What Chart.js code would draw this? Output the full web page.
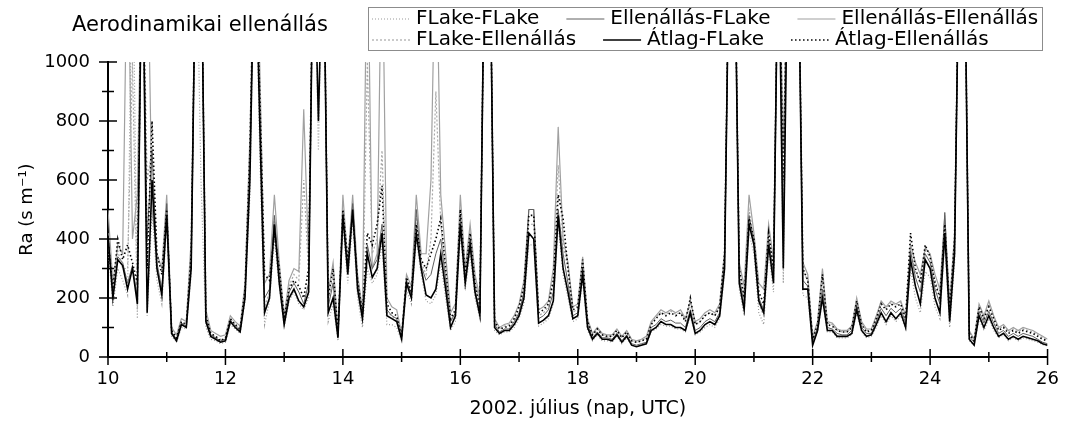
<!DOCTYPE html>
<html>
<head>
<meta charset="utf-8">
<script src="https://cdn.jsdelivr.net/npm/chart.js@4.4.0/dist/chart.umd.min.js"></script>
<style>
  html, body { margin: 0; padding: 0; background: #fff; }
  #wrap { width: 1071px; height: 421px; }
</style>
</head>
<body>
<div id="wrap"><canvas id="raChart" width="1071" height="421"></canvas></div>
<script>
// Ra, aerodinamikai ellenállás, 2 óránkénti értékek 2002.07.10 00 UTC - 07.26 00 UTC
// (1000 fölötti értékek a grafikonon kilógnak, ott becsült 1500)

const firstDay = 10
const stepDays = 2 / 24

const flakeFLake = [
  380, 170, 300, 260, 210, 1500, 130, 1500, 140, 500, 260, 180,
  450, 70, 50, 100, 95, 280, 1500, 600, 100, 60, 55, 45,
  50, 110, 95, 80, 190, 550, 1500, 700, 110, 190, 400, 240,
  100, 190, 220, 180, 160, 200, 1500, 700, 1500, 120, 180, 55,
  450, 250, 460, 200, 100, 300, 250, 280, 380, 110, 110, 100,
  55, 230, 180, 400, 280, 190, 180, 210, 320, 200, 90, 120,
  420, 230, 350, 200, 130, 1500, 1500, 90, 75, 85, 85, 100,
  130, 180, 380, 380, 105, 115, 130, 180, 450, 280, 200, 120,
  130, 260, 90, 55, 75, 55, 55, 50, 70, 45, 65, 40,
  35, 40, 45, 85, 95, 110, 105, 105, 95, 95, 85, 140,
  75, 85, 100, 110, 100, 130, 280, 1500, 1500, 230, 140, 420,
  350, 150, 110, 360, 220, 1500, 250, 1500, 1500, 1500, 210, 200,
  45, 85, 190, 85, 85, 65, 65, 65, 75, 150, 85, 65,
  70, 100, 140, 110, 140, 120, 140, 95, 300, 200, 150, 290,
  270, 170, 130, 380, 100, 320, 1500, 1500, 55, 40, 130, 90,
  130, 90, 65, 75, 55, 65, 55, 65, 60, 55, 50, 42,
  38
]

const ellenallasFLake = [
  420, 210, 340, 320, 250, 310, 200, 1500, 400, 700, 320, 230,
  520, 85, 60, 115, 105, 320, 1500, 1500, 130, 75, 65, 55,
  60, 125, 105, 90, 210, 650, 1500, 850, 200, 230, 480, 280,
  120, 220, 250, 220, 180, 250, 1500, 1000, 1500, 170, 250, 70,
  490, 300, 520, 250, 140, 380, 300, 330, 450, 160, 140, 130,
  65, 260, 210, 500, 310, 260, 280, 350, 400, 260, 120, 150,
  480, 260, 400, 230, 150, 1500, 1500, 110, 85, 95, 95, 120,
  150, 220, 500, 500, 130, 140, 160, 220, 500, 350, 250, 140,
  150, 300, 110, 65, 85, 65, 65, 60, 80, 55, 75, 45,
  40, 45, 50, 100, 110, 130, 120, 125, 115, 115, 100, 160,
  90, 100, 120, 130, 120, 150, 320, 1500, 1500, 270, 180, 480,
  390, 200, 160, 400, 280, 1500, 400, 1500, 1500, 1500, 260, 240,
  50, 100, 230, 100, 95, 80, 75, 75, 90, 175, 100, 80,
  80, 120, 165, 140, 165, 150, 165, 115, 360, 270, 220, 350,
  320, 230, 180, 490, 140, 380, 1500, 1500, 70, 50, 155, 115,
  155, 115, 80, 90, 70, 80, 70, 80, 75, 70, 60, 50,
  45
]

const ellenallasEllenallas = [
  500, 250, 380, 350, 1500, 400, 550, 1500, 1500, 500, 350, 300,
  550, 100, 75, 130, 120, 400, 1500, 1500, 160, 90, 80, 70,
  75, 140, 120, 105, 250, 750, 1500, 1000, 250, 280, 550, 320,
  140, 260, 300, 290, 840, 330, 1500, 1500, 1500, 220, 320, 90,
  550, 320, 550, 280, 160, 1500, 300, 350, 1500, 200, 170, 160,
  80, 280, 240, 550, 350, 350, 600, 1500, 550, 350, 150, 180,
  550, 300, 450, 280, 200, 1500, 1500, 130, 100, 110, 115, 140,
  180, 260, 500, 500, 160, 170, 190, 300, 780, 400, 320, 170,
  180, 340, 130, 80, 100, 80, 75, 75, 95, 70, 90, 60,
  55, 60, 70, 120, 140, 160, 150, 160, 150, 160, 130, 190,
  120, 130, 150, 160, 150, 180, 360, 1500, 1500, 320, 240, 550,
  420, 250, 230, 450, 330, 1500, 700, 1500, 1500, 1500, 320, 280,
  70, 120, 300, 120, 115, 95, 90, 90, 105, 200, 120, 95,
  95, 140, 190, 170, 190, 180, 190, 140, 380, 320, 280, 370,
  350, 280, 230, 480, 180, 420, 1500, 1500, 90, 60, 180, 140,
  190, 140, 100, 110, 90, 100, 90, 100, 95, 90, 80, 70,
  60
]

const flakeEllenallas = [
  420, 200, 360, 300, 300, 1000, 160, 1500, 600, 700, 300, 200,
  470, 80, 60, 110, 105, 320, 1500, 1500, 130, 75, 70, 60,
  60, 130, 110, 90, 220, 650, 1500, 850, 170, 220, 470, 270,
  120, 240, 280, 260, 600, 280, 1500, 1000, 1500, 180, 280, 75,
  500, 300, 500, 250, 120, 1000, 350, 400, 700, 150, 140, 120,
  65, 260, 210, 480, 320, 280, 400, 900, 450, 280, 120, 150,
  480, 270, 420, 260, 180, 1500, 1500, 115, 95, 105, 110, 130,
  160, 230, 450, 450, 140, 150, 170, 250, 650, 380, 300, 150,
  165, 320, 120, 75, 95, 75, 70, 70, 90, 65, 85, 55,
  50, 55, 65, 115, 135, 150, 145, 155, 145, 150, 125, 180,
  110, 120, 140, 150, 140, 170, 340, 1500, 1500, 300, 210, 500,
  400, 180, 140, 430, 290, 1500, 500, 1500, 1500, 1500, 290, 260,
  65, 115, 260, 115, 110, 90, 85, 85, 100, 190, 115, 90,
  90, 130, 185, 165, 185, 175, 185, 135, 360, 290, 260, 360,
  340, 260, 210, 440, 170, 400, 1500, 1500, 85, 55, 170, 130,
  180, 135, 95, 105, 85, 95, 85, 95, 90, 85, 75, 65,
  58
]

const atlagFLake = [
  410, 200, 330, 310, 230, 300, 180, 1500, 150, 600, 300, 210,
  480, 80, 55, 110, 100, 300, 1500, 1500, 120, 70, 60, 50,
  55, 120, 100, 85, 200, 600, 1500, 800, 150, 200, 450, 250,
  110, 200, 230, 190, 170, 220, 1500, 800, 1500, 150, 200, 65,
  480, 280, 500, 230, 130, 350, 270, 300, 420, 140, 130, 120,
  60, 250, 200, 420, 300, 210, 200, 230, 350, 230, 100, 140,
  450, 250, 380, 220, 140, 1500, 1500, 100, 80, 90, 90, 110,
  140, 200, 420, 400, 115, 125, 140, 190, 480, 300, 220, 130,
  140, 280, 100, 60, 80, 60, 60, 55, 75, 50, 70, 40,
  35, 40, 45, 90, 100, 120, 110, 110, 100, 100, 90, 150,
  80, 90, 110, 120, 110, 140, 300, 1500, 1500, 250, 160, 450,
  380, 190, 150, 380, 250, 1500, 300, 1500, 1500, 1500, 230, 230,
  40, 90, 200, 90, 90, 70, 70, 70, 80, 160, 90, 70,
  75, 110, 150, 120, 150, 130, 150, 100, 330, 240, 180, 330,
  300, 200, 150, 420, 120, 350, 1500, 1500, 60, 40, 140, 100,
  140, 100, 70, 80, 60, 70, 60, 70, 65, 60, 55, 45,
  40
]

const atlagEllenallas = [
  400, 230, 400, 330, 380, 320, 250, 1500, 300, 800, 350, 280,
  500, 90, 65, 120, 110, 350, 1500, 1500, 140, 80, 70, 55,
  65, 130, 110, 95, 230, 700, 1500, 900, 280, 260, 420, 300,
  130, 230, 260, 240, 200, 300, 1500, 1500, 1500, 200, 300, 80,
  500, 330, 480, 260, 150, 420, 380, 450, 580, 180, 150, 140,
  70, 270, 220, 450, 330, 300, 350, 400, 470, 300, 130, 160,
  500, 280, 420, 250, 170, 1500, 1500, 120, 95, 100, 105, 130,
  170, 240, 480, 480, 150, 160, 180, 260, 550, 470, 300, 160,
  170, 330, 120, 75, 95, 75, 70, 70, 90, 65, 85, 55,
  50, 55, 60, 110, 130, 150, 140, 150, 140, 150, 120, 200,
  110, 120, 140, 150, 140, 170, 350, 1500, 1500, 300, 200, 470,
  400, 220, 180, 420, 300, 1500, 600, 1500, 1500, 1500, 300, 260,
  60, 110, 280, 110, 105, 90, 85, 85, 100, 190, 110, 85,
  90, 130, 180, 160, 180, 170, 180, 130, 420, 300, 250, 380,
  340, 250, 200, 450, 160, 400, 1500, 1500, 80, 55, 170, 130,
  170, 130, 90, 100, 80, 90, 80, 90, 85, 80, 70, 60,
  55
]

const sampleDays = atlagFLake.map((v, i) => firstDay + i * stepDays)

const chartTitle = 'Aerodinamikai ellenállás'
const xTitle = '2002. július (nap, UTC)'
const yTitle = 'Ra (s m⁻¹)'

// legend rows, in the order of the reference
const legendRows = [
  ['FLake-FLake', 'Ellenállás-FLake', 'Ellenállás-Ellenállás'],
  ['FLake-Ellenállás', 'Átlag-FLake', 'Átlag-Ellenállás']
]

const FONT = '"DejaVu Sans", "Liberation Sans", Arial, sans-serif'
Chart.defaults.font.family = FONT
Chart.defaults.color = '#000'

function series(label, values, color, width, dash, order){
  return {
    label: label,
    data: values,
    borderColor: color,
    borderWidth: width,
    borderDash: dash,
    pointRadius: 0,
    tension: 0,
    fill: false,
    order: order
  }
}

const datasets = [
  series('Átlag-FLake', atlagFLake, '#000000', 1.6, [], 0),
  series('Átlag-Ellenállás', atlagEllenallas, '#000000', 1.6, [1.5, 2.5], 1),
  series('Ellenállás-FLake', ellenallasFLake, '#606060', 1, [], 2),
  series('FLake-Ellenállás', flakeEllenallas, '#a8a8a8', 1.2, [2, 2], 3),
  series('FLake-FLake', flakeFLake, '#9a9a9a', 1.2, [1, 2], 4),
  series('Ellenállás-Ellenállás', ellenallasEllenallas, '#a0a0a0', 1.2, [], 5)
]

// axis ticks crossing the axis lines, title and boxed legend
const decorations = {
  id: 'decorations',
  afterDraw(chart) {
    const ctx = chart.ctx
    const xs = chart.scales.x
    const ys = chart.scales.y
    ctx.save()
    ctx.strokeStyle = '#000'
    ctx.lineWidth = 1.5
    for (let d = 10; d <= 26; d++) {
      const px = xs.getPixelForValue(d)
      const len = d % 2 === 0 ? 8 : 5
      ctx.beginPath()
      ctx.moveTo(px, ys.bottom - len)
      ctx.lineTo(px, ys.bottom + len)
      ctx.stroke()
    }
    for (let v = 0; v <= 1000; v += 100) {
      const py = ys.getPixelForValue(v)
      const len = v % 200 === 0 ? 9 : 6
      ctx.beginPath()
      ctx.moveTo(xs.left - len, py)
      ctx.lineTo(xs.left + len, py)
      ctx.stroke()
    }

    ctx.fillStyle = '#000'
    ctx.textBaseline = 'middle'
    ctx.textAlign = 'left'
    ctx.font = '21px ' + FONT
    ctx.fillText(chartTitle, 72, 26)

    // legend box
    ctx.strokeStyle = '#8c8c8c'
    ctx.lineWidth = 1
    ctx.setLineDash([])
    ctx.strokeRect(368.5, 7.5, 674, 43)

    ctx.font = '20px ' + FONT
    const rowY = [19, 40]
    legendRows.forEach((row, r) => {
      let x = 372
      row.forEach(name => {
        const ds = datasets.find(d => d.label === name)
        ctx.strokeStyle = ds.borderColor
        ctx.lineWidth = ds.borderWidth
        ctx.setLineDash(ds.borderDash)
        ctx.beginPath()
        ctx.moveTo(x, rowY[r])
        ctx.lineTo(x + 38, rowY[r])
        ctx.stroke()
        ctx.setLineDash([])
        ctx.fillStyle = '#000'
        ctx.fillText(name, x + 44, rowY[r])
        x += 44 + ctx.measureText(name).width + 27
      })
    })
    ctx.restore()
  }
}

const ctx = document.getElementById('raChart').getContext('2d')

const chart = new Chart(ctx, {
  type: 'line',
  data: { labels: sampleDays, datasets: datasets },
  plugins: [decorations],
  options: {
    responsive: false,
    animation: false,
    layout: { padding: { top: 62, right: 18, bottom: 0, left: 0 } },
    plugins: {
      legend: { display: false },
      title: { display: false },
      tooltip: { enabled: false }
    },
    scales: {
      x: {
        type: 'linear',
        min: 10,
        max: 26,
        afterFit: (scale) => { scale.height = 64 },
        ticks: { stepSize: 2, font: { size: 18 }, padding: 12, maxRotation: 0, callback: (v) => String(v) },
        grid: { display: false, drawTicks: false },
        border: { display: true, color: '#000', width: 2 },
        title: { display: true, text: xTitle, font: { size: 19 }, padding: { top: 0, bottom: 1 } }
      },
      y: {
        min: 0,
        max: 1000,
        afterFit: (scale) => { scale.width = 108 },
        ticks: { stepSize: 200, font: { size: 18 }, padding: 18, callback: (v) => String(v) },
        grid: { display: false, drawTicks: false },
        border: { display: true, color: '#000', width: 2 },
        title: { display: true, text: yTitle, font: { size: 18 }, padding: { top: 17, bottom: 0 } }
      }
    }
  }
})
</script>
</body>
</html>
